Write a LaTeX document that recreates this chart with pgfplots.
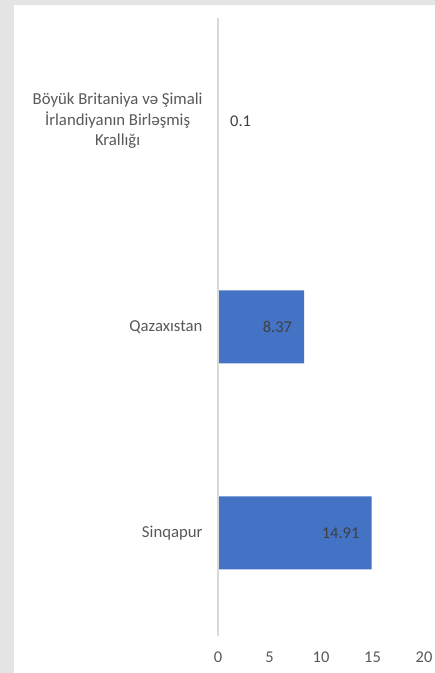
\documentclass[border=0pt]{standalone}
\usepackage{fontspec}
\setmainfont{Carlito}
\usepackage{pgfplots}
\pgfplotsset{compat=1.18}
\definecolor{barblue}{HTML}{4472C4}
\definecolor{axgray}{HTML}{D9D9D9}
\definecolor{lblgray}{HTML}{595959}
\definecolor{datagray}{HTML}{404040}
\definecolor{bggray}{HTML}{E4E4E4}
\begin{document}
\begin{tikzpicture}
\useasboundingbox (0,0) rectangle (435bp,673bp);
\fill[bggray] (0,0) rectangle (435bp,673bp);
\fill[white] (14bp,0) rectangle (435bp,668bp);
\begin{axis}[
  at={(218bp,37bp)}, anchor=south west,
  scale only axis, width=206bp, height=618bp,
  xbar, bar width=73bp, bar shift=0pt,
  xmin=0, xmax=20, ymin=-0.5, ymax=2.5,
  xtick={0,5,10,15,20},
  ytick={0,1,2},
  yticklabels={Sinqapur, Qazaxıstan, {Böyük Britaniya və Şimali\\İrlandiyanın Birləşmiş\\Krallığı}},
  axis line style={draw=none},
  tick style={draw=none},
  /pgf/number format/assume math mode=true,
  xticklabel style={font=\fontsize{16.5}{19}\selectfont, text=lblgray, inner sep=0pt, anchor=north, yshift=-16bp},
  yticklabel style={font=\fontsize{16.8}{20.5}\selectfont, text=lblgray, inner sep=0pt, align=center, anchor=east, xshift=-11bp},
  clip=false,
]
\addplot[fill=barblue, draw=none,
  nodes near coords,
  every node near coord/.append style={font=\fontsize{16.5}{19}\selectfont, text=datagray, anchor=east, inner sep=0pt, xshift=-12bp},
  /pgf/number format/fixed, /pgf/number format/precision=2]
  coordinates {(14.91,0) (8.37,1)};
\addplot[fill=barblue, draw=none,
  nodes near coords,
  every node near coord/.append style={font=\fontsize{16.5}{19}\selectfont, text=datagray, anchor=west, inner sep=0pt, xshift=11bp},
  /pgf/number format/fixed, /pgf/number format/precision=2]
  coordinates {(0.1,2)};
\draw[axgray, line width=1.6bp] (axis cs:0,-0.5) -- (axis cs:0,2.5);
\end{axis}
\end{tikzpicture}
\end{document}
